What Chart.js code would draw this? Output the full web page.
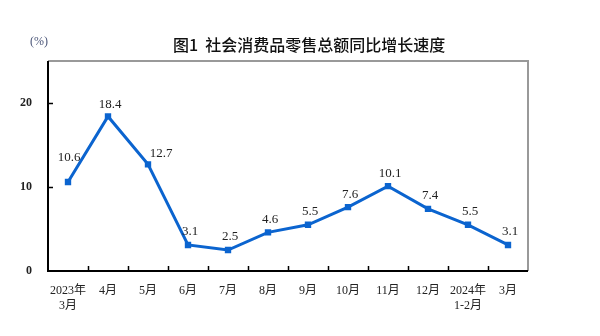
<!DOCTYPE html>
<html>
<head>
<meta charset="utf-8">
<script src="https://cdn.jsdelivr.net/npm/chart.js@4"></script>
<style>
  html, body { margin: 0; padding: 0; background: #fff; }
  #wrap { width: 600px; height: 336px; }
</style>
</head>
<body>
<div id="wrap"><canvas id="chart" width="600" height="336"></canvas></div>
<script>
var titleText = '图1  社会消费品零售总额同比增长速度';
var unitText = '(%)';
var categories = [['2023年', '3月'], '4月', '5月', '6月', '7月', '8月', '9月', '10月', '11月', '12月', ['2024年', '1-2月'], '3月'];
var growthRates = [10.6, 18.4, 12.7, 3.1, 2.5, 4.6, 5.5, 7.6, 10.1, 7.4, 5.5, 3.1];
var yTickValues = [0, 10, 20];

var serif = '"Liberation Serif", "Noto Sans CJK SC", serif';

// frame, inner ticks, titles and point labels
var decorPlugin = {
    id: 'decor',
    afterDraw: function (chart) {
        var ctx = chart.ctx;
        var area = chart.chartArea;
        var xs = chart.scales.x;
        var ys = chart.scales.y;
        ctx.save();

        // gray top/right frame
        ctx.strokeStyle = '#999';
        ctx.lineWidth = 2;
        ctx.beginPath();
        ctx.moveTo(area.left, area.top);
        ctx.lineTo(area.right, area.top);
        ctx.lineTo(area.right, area.bottom);
        ctx.stroke();

        // black axes
        ctx.strokeStyle = '#000';
        ctx.beginPath();
        ctx.moveTo(area.left, area.top);
        ctx.lineTo(area.left, area.bottom);
        ctx.lineTo(area.right, area.bottom);
        ctx.stroke();

        // inner ticks
        ctx.lineWidth = 1.5;
        ctx.beginPath();
        for (var i = 1; i < categories.length; i++) {
            var tx = Math.round(xs.getPixelForValue(i - 0.5)) + 0.5;
            ctx.moveTo(tx, area.bottom);
            ctx.lineTo(tx, area.bottom - 5);
        }
        for (var k = 1; k < yTickValues.length; k++) {
            var ty = Math.round(ys.getPixelForValue(yTickValues[k])) + 0.5;
            ctx.moveTo(area.left, ty);
            ctx.lineTo(area.left + 5, ty);
        }
        ctx.stroke();

        // title and unit
        ctx.fillStyle = '#111';
        ctx.textAlign = 'left';
        ctx.textBaseline = 'middle';
        ctx.font = '500 16px "Noto Sans CJK SC", sans-serif';
        ctx.fillText(titleText, 173, 45);
        ctx.textAlign = 'center';
        ctx.font = '12px ' + serif;
        ctx.fillStyle = '#4a5578';
        ctx.fillText(unitText, 39, 42);

        // value labels
        var meta = chart.getDatasetMeta(0);
        ctx.font = '13px ' + serif;
        ctx.fillStyle = '#222';
        meta.data.forEach(function (pt, idx) {
            var dx = 2, dy = -13;
            if (idx === 0) { dx = 1; dy = -24; }
            if (idx === 2) { dx = 13; dy = -11; }
            if (idx === 1) { dy = -12; }
            ctx.fillText(String(growthRates[idx].toFixed(1)), pt.x + dx, pt.y + dy);
        });
        ctx.restore();
    }
};

new Chart(document.getElementById('chart'), {
    type: 'line',
    data: {
        labels: categories,
        datasets: [{
            data: growthRates,
            borderColor: '#0b64cf',
            backgroundColor: '#0b64cf',
            borderWidth: 3,
            pointStyle: 'rect',
            pointRadius: 4.5,
            pointBorderWidth: 0,
            tension: 0
        }]
    },
    options: {
        responsive: false,
        animation: false,
        layout: { padding: { top: 61, right: 72, left: 0, bottom: 0 } },
        plugins: {
            legend: { display: false },
            title: { display: false },
            tooltip: { enabled: false }
        },
        scales: {
            x: {
                offset: true,
                grid: { display: false, offset: true },
                border: { display: false },
                ticks: {
                    color: '#222',
                    font: { family: serif, size: 12 },
                    padding: 5,
                    maxRotation: 0,
                    autoSkip: false
                },
                afterFit: function (scale) { scale.height = 65; }
            },
            y: {
                min: 0,
                max: 25,
                grid: { display: false },
                border: { display: false },
                ticks: {
                    stepSize: 10,
                    color: '#222',
                    padding: 8,
                    font: { family: serif, size: 12, weight: 'bold' }
                },
                afterBuildTicks: function (scale) {
                    scale.ticks = yTickValues.map(function (v) { return { value: v }; });
                },
                afterFit: function (scale) { scale.width = 48; }
            }
        }
    },
    plugins: [decorPlugin]
});
</script>
</body>
</html>
